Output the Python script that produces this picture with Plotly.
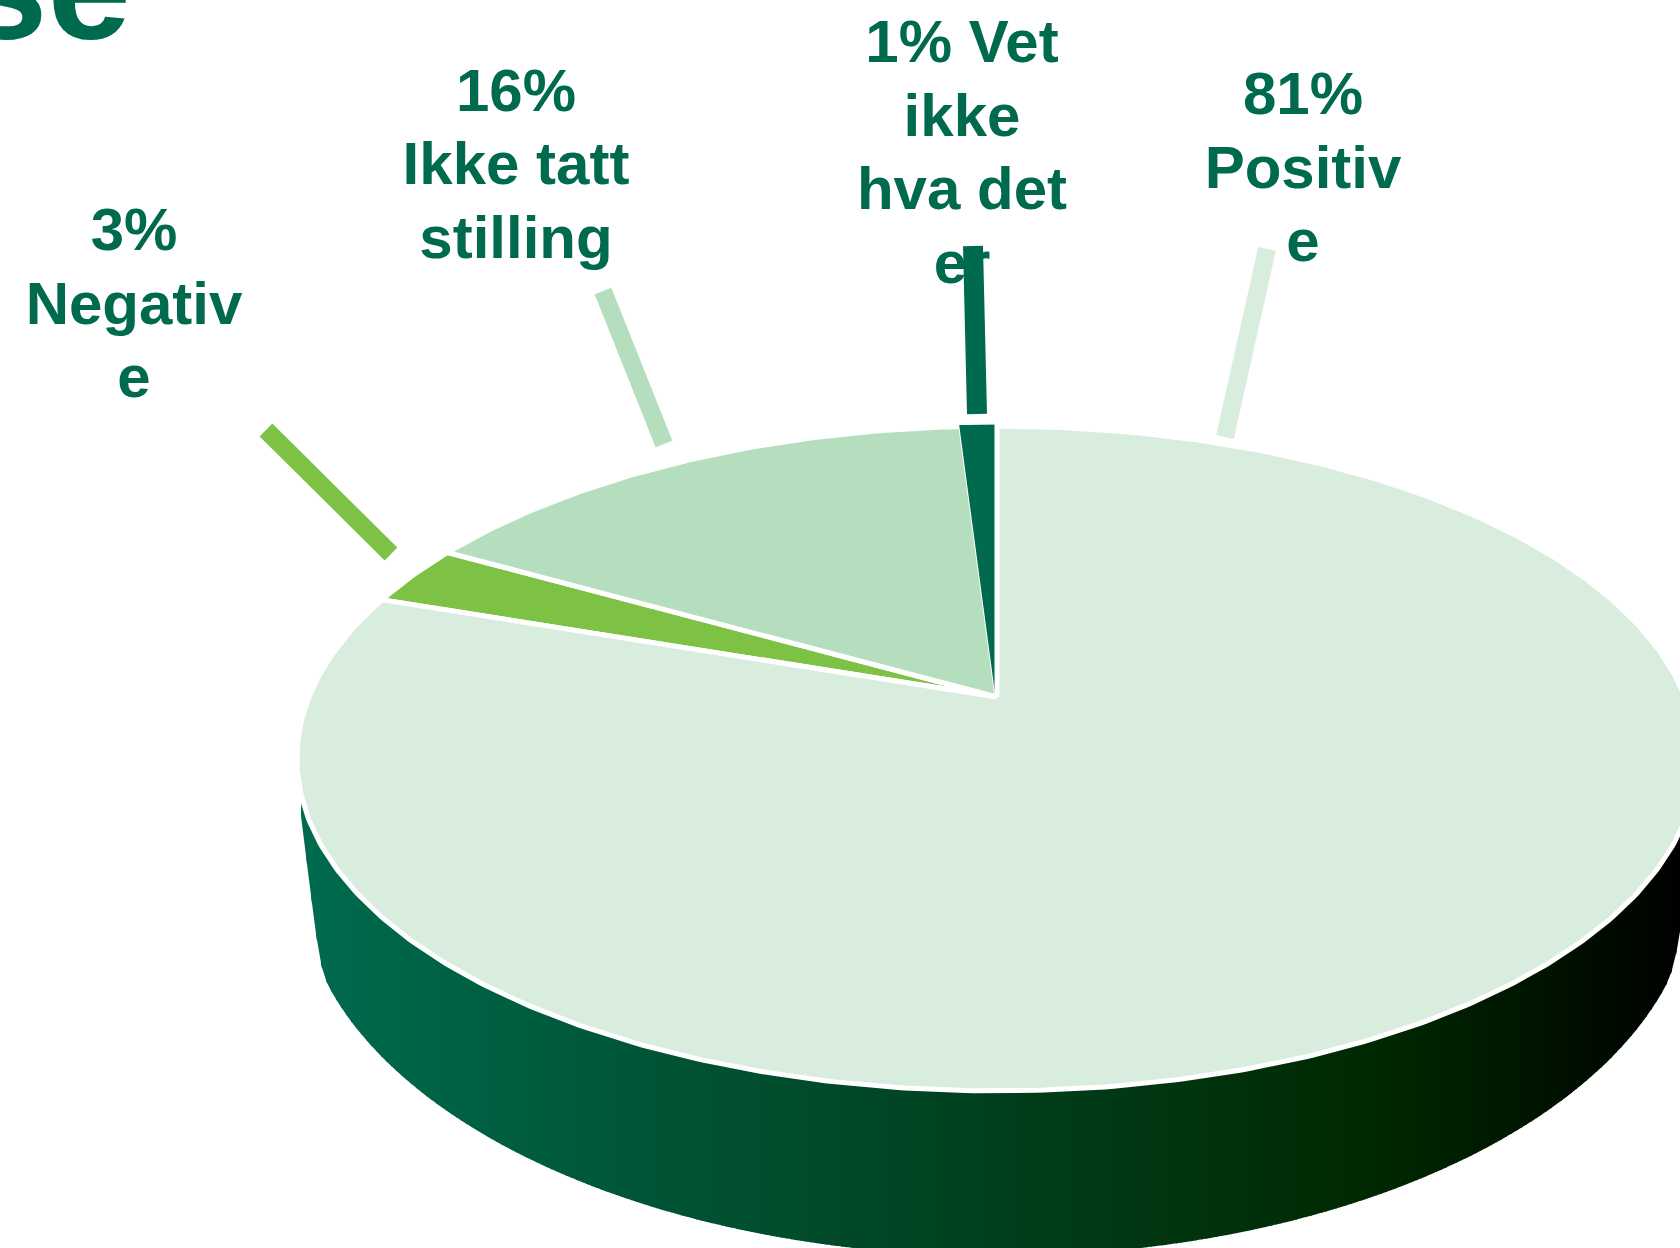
import numpy as np
import plotly.graph_objects as go

# ---- data
categories = ["Positive", "Negative", "Ikke tatt stilling", "Vet ikke hva det er"]
values = [81, 3, 16, 1]
label_lines = [
    ["81%", "Positiv", "e"],
    ["3%", "Negativ", "e"],
    ["16%", "Ikke tatt", "stilling"],
    ["1% Vet", "ikke", "hva det", "er"],
]
slice_colors = {"Positive": "#D8EDDD", "Negative": "#7DC244",
                "Ikke tatt stilling": "#B5DEBE", "Vet ikke hva det er": "#006A4E"}
slice_outline = {"Positive": ("white", 5), "Negative": ("white", 5),
                 "Ikke tatt stilling": ("white", 5), "Vet ikke hva det er": ("#006A4E", 3)}
draw_order = ["Negative", "Ikke tatt stilling", "Vet ikke hva det er", "Positive"]

# ---- style / layout constants (pixel space of the axes)
TEXT = "#006A4E"
FONT = "Liberation Sans, Arial, sans-serif"
FS = 60
LINE_STEP = 73.6
W, H = 1680, 1248
AX, AY = 997, 697      # apex of the pie on the page
A, B, K = 688, 321, 0.185   # perspective projection of the unit circle
BOT_CY, BOT_A, BOT_B = 880, 697, 376   # lower rim of the side wall
label_pos = {"Positive": (1303, 116), "Negative": (134, 252),
             "Ikke tatt stilling": (516, 112.5), "Vet ikke hva det er": (962, 64)}  # first baseline
leaders = {
    "Positive": ((1267, 249), (1225, 437), 18),
    "Negative": ((266, 430), (391, 554), 18),
    "Ikke tatt stilling": ((603, 291), (664, 444), 18),
    "Vet ikke hva det er": ((973, 246), (977, 414), 20),
}


def project(theta):
    """clockwise angle from 12 o'clock (radians) -> page coordinates"""
    x, y = np.sin(theta), np.cos(theta)
    d = 1 + K * y
    return AX + A * x / d, AY - B * y / d


def gradient(x):
    stops = [(300, (0, 107, 80)), (1390, (0, 40, 0)), (1690, (0, 0, 0))]
    xs = [s[0] for s in stops]
    return "rgb(%d,%d,%d)" % tuple(
        np.interp(x, xs, [s[1][i] for s in stops]) for i in range(3)
    )


cx = AX
top_cy, top_a, top_b = 760, 698, 331


def wall_bottom(x):
    ell = BOT_CY + BOT_B * np.sqrt(np.clip(1 - ((x - cx) / BOT_A) ** 2, 0, 1))
    left = 808 + 8 * (x - 300)
    right = 830 + 7 * (1695 - x)
    s = 13.0
    return -s * np.log(np.exp(-ell / s) + np.exp(-left / s) + np.exp(-right / s))


def wall_top(x):
    return top_cy + top_b * np.sqrt(np.clip(1 - ((x - cx) / top_a) ** 2, 0, 1)) - 4


fig = go.Figure()

# side wall: thin vertical strips with a left-to-right gradient
edges = np.arange(301, 1696, 5.0)
for x0, x1 in zip(edges[:-1], edges[1:]):
    xa, xb = x0, x1 + 1
    fig.add_trace(go.Scatter(
        x=[xa, xb, xb, xa],
        y=[wall_top(xa), wall_top(xb), wall_bottom(xb), wall_bottom(xa)],
        mode="lines", fill="toself",
        fillcolor=gradient((x0 + x1) / 2), line=dict(width=0),
        hoverinfo="skip", showlegend=False))

# top faces: angles come from the values, normalised by their sum
total = sum(values)
angles = {}
start = 0.0
for name, v in zip(categories, values):
    end = start + v / total * 2 * np.pi
    angles[name] = (start, end, v)
    start = end

for name in draw_order:
    a0, a1, v = angles[name]
    t = np.linspace(a0, a1, max(12, int(v * 6)))
    px, py = project(t)
    lc, lw = slice_outline[name]
    fig.add_trace(go.Scatter(
        x=np.r_[AX, px, AX], y=np.r_[AY, py, AY], mode="lines", fill="toself",
        fillcolor=slice_colors[name], line=dict(color=lc, width=lw),
        name=name, hoverinfo="name", showlegend=False))

# labels: one text point per wrapped line
for name, lines in zip(categories, label_lines):
    x, base = label_pos[name]
    fig.add_trace(go.Scatter(
        x=[x] * len(lines),
        y=[base + i * LINE_STEP - 0.28 * FS for i in range(len(lines))],
        mode="text", text=lines, textposition="middle center",
        textfont=dict(family=FONT, size=FS, color=TEXT, weight="bold"),
        hoverinfo="skip", showlegend=False, cliponaxis=False))

# leader lines (drawn over the labels, as in the original)
for name, (p0, p1, w) in leaders.items():
    fig.add_trace(go.Scatter(
        x=[p0[0], p1[0]], y=[p0[1], p1[1]], mode="lines",
        line=dict(color=slice_colors[name], width=w),
        hoverinfo="skip", showlegend=False))

# cropped title fragment in the corner
fig.add_annotation(
    xref="paper", yref="paper", x=0, y=1, xanchor="left", yanchor="top",
    text="<b>se</b>", showarrow=False, xshift=-38, yshift=99,
    font=dict(family=FONT, size=150, color=TEXT))

fig.update_xaxes(range=[0, W], visible=False, fixedrange=True)
fig.update_yaxes(range=[H, 0], visible=False, fixedrange=True)
fig.update_layout(width=W, height=H, margin=dict(l=0, r=0, t=0, b=0),
                  paper_bgcolor="white", plot_bgcolor="white", showlegend=False)
fig.write_html("out.html", config={"displayModeBar": False},
               post_script="document.body.style.margin='0';document.body.style.overflow='hidden';")
